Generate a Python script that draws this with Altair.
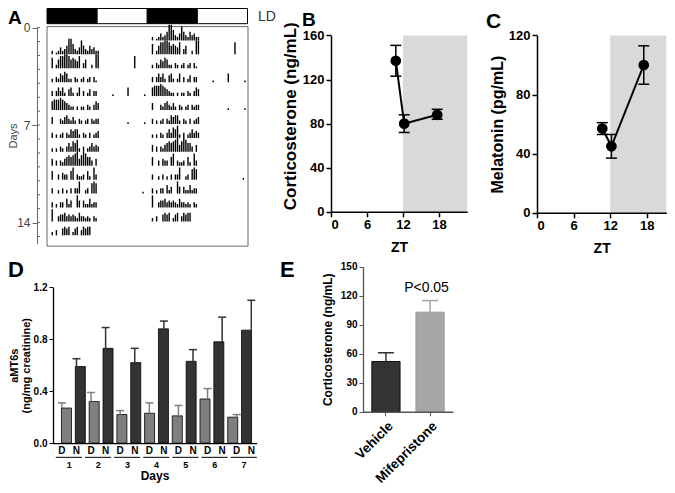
import altair as alt
import pandas as pd

# ---------------- data ----------------
# Panel A: actogram (double plotted). Light/dark bar
LD_EDGES = [0, 12, 24, 36, 48]
LD_PHASES = ["dark", "light", "dark", "light"]

# activity per day: one digit per 30-min bin starting at hour 1.0 (height level 0-9)
ACT_FIRST_HOUR = 1.0
ACT_BIN_HOURS = 0.5
ACT_DARK = [
    "201242359963248532534220",
    "602577887565470350020880",
    "203254652203202302303100",
    "303535204520250302403300",
    "566676543220202203203540",
    "400032453242032023032330",
    "302023032545520320302340",
    "202032035365720302353430",
    "403032456567846875530400",
    "500304330570322305207300",
    "300203020303370023067600",
    "302033052400740422523300",
    "700344534343253323203200",
    "203004545024503545500000",
]
ACT_EXTRA_DAY = [1, 3, 3, 3, 5, 5, 10]
ACT_EXTRA_HOUR = [21.0, 15.8, 19.4, 23.4, 19.4, 23.4, 23.0]
ACT_EXTRA_LEVEL = [7, 1, 5, 1, 1, 1, 1]

# Panel B: corticosterone vs ZT
B_ZT = [10.8, 12.2, 17.7]
B_MEAN = [137, 80, 88]
B_LOW = [123, 72, 84]
B_HIGH = [151, 88, 93]

# Panel C: melatonin vs ZT
C_ZT = [10.7, 12.2, 17.5]
C_MEAN = [57, 45, 100]
C_LOW = [53, 37, 87]
C_HIGH = [61, 53, 113]

DARK_START_ZT = 12

# Panel D: aMT6s by day, D (day) / N (night)
D_DAYS = [1, 2, 3, 4, 5, 6, 7]
D_DAY_MEAN = [0.27, 0.32, 0.22, 0.23, 0.21, 0.34, 0.20]
D_DAY_HIGH = [0.31, 0.39, 0.25, 0.31, 0.29, 0.42, 0.22]
D_NIGHT_MEAN = [0.59, 0.73, 0.62, 0.88, 0.63, 0.78, 0.87]
D_NIGHT_HIGH = [0.65, 0.89, 0.73, 0.94, 0.72, 0.97, 1.10]

# Panel E
E_GROUPS = ["Vehicle", "Mifepristone"]
E_MEAN = [52, 103]
E_HIGH = [61, 115]

# ---------------- layout ----------------
W, H = 659, 477
FONT = "Liberation Sans"


def X(r):
    return r - 8


def Y(r):
    return round((r - 4.0) * 0.98, 2)


def lin(domain, r0, r1):
    return alt.Scale(domain=domain, range=[r0, r1], nice=False, zero=False)


def left_axis(xpos, **kw):
    base = dict(orient="left", offset=-xpos, zindex=1, grid=False,
                labelFont=FONT, titleFont=FONT)
    base.update(kw)
    return alt.Axis(**base)


def bottom_axis(ypos, **kw):
    base = dict(orient="bottom", offset=ypos - H, zindex=1, grid=False,
                labelFont=FONT, titleFont=FONT)
    base.update(kw)
    return alt.Axis(**base)


def dummy():
    return pd.DataFrame({"k": [0]})


def text_layer(txt, x, y, size, weight="bold", align="left",
               baseline="alphabetic", color="black"):
    return alt.Chart(dummy()).mark_text(
        text=txt, fontSize=size, fontWeight=weight, align=align,
        baseline=baseline, color=color, font=FONT
    ).encode(x=alt.value(x), y=alt.value(y))


layers = []

# ---------------- Panel A ----------------
a_x = lin([0, 48], X(47), X(247.5))
a_y = lin([0, 15.5], Y(24), Y(24 + 15.5 * 14.21))

ld_df = pd.DataFrame({"start": LD_EDGES[:-1], "end": LD_EDGES[1:], "phase": LD_PHASES})
layers.append(
    alt.Chart(ld_df).mark_rect(stroke="black", strokeWidth=1).encode(
        x=alt.X("start:Q", scale=a_x, axis=None), x2="end",
        y=alt.value(0.5), y2=alt.value(Y(20)),
        fill=alt.Fill("phase:N", scale=alt.Scale(domain=["dark", "light"], range=["black", "white"]), legend=None),
    )
)
layers.append(text_layer("LD", X(258), Y(17), 14, weight="normal", color="#333"))

layers.append(
    alt.Chart(dummy()).mark_rect(fillOpacity=0, stroke="#666", strokeWidth=1).encode(
        x=alt.value(X(47)), x2=alt.value(X(248)), y=alt.value(Y(23)), y2=alt.value(Y(247))
    )
)

tick_df = pd.DataFrame({"day": list(range(0, 16))})
layers.append(
    alt.Chart(tick_df).mark_rule(color="#666", strokeWidth=1).encode(
        y=alt.Y("day:Q", scale=a_y, axis=left_axis(
            X(37), values=[0, 7, 14], title="Days", labelFontSize=12, labelFontWeight="normal",
            labelColor="#444", titleFontSize=11, titleFontWeight="normal", titleColor="#444",
            domainColor="#666", domainWidth=1, tickColor="#666", tickWidth=1, tickSize=5,
            labelPadding=2, titleX=10 - X(37), titleBaseline="bottom")),
        x=alt.value(X(37)), x2=alt.value(X(40)),
    )
)

act_rows = []
for d, s in enumerate(ACT_DARK):
    for i, ch in enumerate(s):
        lvl = int(ch)
        if lvl == 0:
            continue
        hr = ACT_FIRST_HOUR + ACT_BIN_HOURS * i + ACT_BIN_HOURS / 2
        for shift, row in ((24, d), (0, d + 1)):
            base = row + 0.92
            act_rows.append({"hour": hr + shift, "base": base, "top": base - lvl * 0.125})
for d, hr, lvl in zip(ACT_EXTRA_DAY, ACT_EXTRA_HOUR, ACT_EXTRA_LEVEL):
    for shift, row in ((24, d), (0, d + 1)):
        base = row + 0.92
        act_rows.append({"hour": hr + shift, "base": base, "top": base - lvl * 0.125})
act_df = pd.DataFrame(act_rows)
layers.append(
    alt.Chart(act_df).mark_rule(color="black", strokeWidth=1.4).encode(
        x=alt.X("hour:Q", scale=a_x, axis=None),
        y=alt.Y("base:Q", scale=a_y, axis=None), y2="top",
    )
)


# ---------------- Panels B & C ----------------
def point_panel(zt, mean, lo, hi, sx, sy, xmax, ymax, xpos, ypos, yvalues, ytitle, ytitle_size, title_y=None):
    df = pd.DataFrame({"zt": zt, "mean": mean, "lo": lo, "hi": hi})
    ykw = dict(values=yvalues, title=ytitle, labelFontSize=13, labelFontWeight="bold",
               labelColor="black", titleFontSize=ytitle_size, titleFontWeight="bold",
               titleColor="black", domainColor="black", domainWidth=1.5, tickColor="black",
               tickWidth=1.5, tickSize=5, labelPadding=2, titlePadding=3)
    if title_y is not None:
        ykw["titleY"] = title_y
    yax = left_axis(xpos, **ykw)
    xax = bottom_axis(ypos, values=[0, 6, 12, 18], title="ZT", labelFontSize=13,
                      labelFontWeight="bold", labelColor="black", titleFontSize=14,
                      titleFontWeight="bold", titleColor="black", domainColor="black",
                      domainWidth=1.5, tickColor="black", tickWidth=1.5, tickSize=5,
                      labelPadding=2, titlePadding=9)
    shade_df = pd.DataFrame({"x0": [DARK_START_ZT], "x1": [xmax], "y0": [0], "y1": [ymax]})
    out = [
        alt.Chart(shade_df).mark_rect(color="#d9d9d9").encode(
            x=alt.X("x0:Q", scale=sx, axis=xax), x2="x1",
            y=alt.Y("y0:Q", scale=sy, axis=yax), y2="y1"),
    ]
    base = alt.Chart(df)
    xe = alt.X("zt:Q", scale=sx, axis=None)
    out.append(base.mark_rule(color="black", strokeWidth=1.5).encode(
        x=xe, y=alt.Y("lo:Q", scale=sy, axis=None), y2="hi"))
    for f in ("lo", "hi"):
        out.append(base.mark_tick(orient="horizontal", size=11, thickness=1.5, color="black", opacity=1).encode(
            x=xe, y=alt.Y(f + ":Q", scale=sy, axis=None)))
    out.append(base.mark_line(color="black", strokeWidth=2).encode(
        x=xe, y=alt.Y("mean:Q", scale=sy, axis=None)))
    out.append(base.mark_circle(size=115, color="black", opacity=1).encode(
        x=xe, y=alt.Y("mean:Q", scale=sy, axis=None)))
    return out


b_x = lin([0, 22.7], X(331), X(467.2))
b_y = lin([0, 160], Y(212), Y(32))
layers += point_panel(B_ZT, B_MEAN, B_LOW, B_HIGH, b_x, b_y, 22.7, 160, X(331), Y(212),
                      [0, 40, 80, 120, 160], "Corticosterone (ng/mL)", 17, title_y=Y(114))

c_x = lin([0, 21.2], X(537), X(537 + 21.2 * 6.1))
c_y = lin([0, 120], Y(213), Y(32))
layers += point_panel(C_ZT, C_MEAN, C_LOW, C_HIGH, c_x, c_y, 21.2, 120, X(537), Y(213),
                      [0, 40, 80, 120], "Melatonin (pg/mL)", 16)

# ---------------- Panel D ----------------
d_x = lin([0.444, 7.436], X(53), X(256.7))
d_y = lin([0, 1.2], Y(448), Y(289))
d_fill = alt.Scale(domain=["D", "N"], range=["#7f7f7f", "#333333"])

d_rows = []
for day, dm, dh, nm, nh in zip(D_DAYS, D_DAY_MEAN, D_DAY_HIGH, D_NIGHT_MEAN, D_NIGHT_HIGH):
    d_rows.append({"pos": day - 0.25, "val": dm, "hi": dh, "phase": "D"})
    d_rows.append({"pos": day + 0.25, "val": nm, "hi": nh, "phase": "N"})
d_df = pd.DataFrame(d_rows)
day_df = pd.DataFrame({"day": D_DAYS, "lo": [d - 0.46 for d in D_DAYS],
                       "hi": [d + 0.44 for d in D_DAYS], "label": [str(d) for d in D_DAYS]})

layers.append(
    alt.Chart(d_df).mark_bar(size=10, orient="vertical", stroke="black", strokeWidth=0.8).encode(
        x=alt.X("pos:Q", scale=d_x, axis=bottom_axis(
            Y(448), labels=False, ticks=False, title=None, domainColor="black", domainWidth=1.3)),
        y=alt.Y("val:Q", scale=d_y, stack=None, axis=left_axis(
            X(53), values=[0, 0.4, 0.8, 1.2], format=".1f", title=["aMT6s", "(ng/mg creatinine)"],
            labelFontSize=10, labelFontWeight="bold", labelColor="black", titleFontSize=11,
            titleFontWeight="bold", titleColor="black", domainColor="black", domainWidth=1.3,
            tickColor="black", tickWidth=1, tickSize=4, labelPadding=2,
            titleX=-34, titleBaseline="bottom", titleLineHeight=12)),
        fill=alt.Fill("phase:N", scale=d_fill, legend=None),
    )
)
layers.append(
    alt.Chart(d_df).mark_rule(strokeWidth=1.5).encode(
        x=alt.X("pos:Q", scale=d_x, axis=None),
        y=alt.Y("val:Q", scale=d_y, axis=None), y2="hi",
        color=alt.Color("phase:N", scale=d_fill, legend=None),
    )
)
layers.append(
    alt.Chart(d_df).mark_tick(orient="horizontal", size=8, thickness=1.5, opacity=1).encode(
        x=alt.X("pos:Q", scale=d_x, axis=None),
        y=alt.Y("hi:Q", scale=d_y, axis=None),
        color=alt.Color("phase:N", scale=d_fill, legend=None),
    )
)
layers.append(
    alt.Chart(d_df).mark_text(fontSize=10, fontWeight="bold", font=FONT, baseline="alphabetic", color="black").encode(
        x=alt.X("pos:Q", scale=d_x, axis=None), y=alt.value(Y(459.5)), text="phase:N",
    )
)
layers.append(
    alt.Chart(day_df).mark_rule(color="black", strokeWidth=1).encode(
        x=alt.X("lo:Q", scale=d_x, axis=None), x2="hi", y=alt.value(Y(462.5)),
    )
)
layers.append(
    alt.Chart(day_df).mark_text(fontSize=9, fontWeight="bold", font=FONT, baseline="alphabetic", color="black").encode(
        x=alt.X("day:Q", scale=d_x, axis=None), y=alt.value(Y(473)), text="label:N",
    )
)
layers.append(text_layer("Days", X(155), Y(486), 12, align="center"))

# ---------------- Panel E ----------------
e_x = alt.Scale(domain=E_GROUPS, range=[X(363), X(453)], paddingInner=0.36, paddingOuter=0.2)
e_y = lin([0, 150], Y(416), Y(268))
e_fill = alt.Scale(domain=E_GROUPS, range=["#333333", "#a6a6a6"])
e_stroke = alt.Scale(domain=E_GROUPS, range=["#111111", "#9a9a9a"])
e_df = pd.DataFrame({"group": E_GROUPS, "mean": E_MEAN, "hi": E_HIGH})

layers.append(
    alt.Chart(e_df).mark_bar(strokeWidth=1).encode(
        x=alt.X("group:N", scale=e_x, sort=E_GROUPS, axis=bottom_axis(
            Y(416), title=None, labelAngle=-45, labelFontSize=13.5, labelFontWeight="bold",
            labelColor="black", domainColor="#555", domainWidth=1.3, tickColor="#555",
            tickWidth=1, tickSize=4, labelPadding=3)),
        y=alt.Y("mean:Q", scale=e_y, stack=None, axis=left_axis(
            X(363), values=[0, 30, 60, 90, 120, 150], title="Corticosterone (ng/mL)",
            labelFontSize=10, labelFontWeight="bold", labelColor="black", titleFontSize=12,
            titleFontWeight="bold", titleColor="black", domainColor="#555", domainWidth=1.3,
            tickColor="#555", tickWidth=1, tickSize=4, labelPadding=2, titlePadding=6)),
        fill=alt.Fill("group:N", scale=e_fill, legend=None),
        stroke=alt.Stroke("group:N", scale=e_stroke, legend=None),
    )
)
layers.append(
    alt.Chart(e_df).mark_rule(strokeWidth=1.5).encode(
        x=alt.X("group:N", scale=e_x, sort=E_GROUPS, axis=None),
        y=alt.Y("mean:Q", scale=e_y, axis=None), y2="hi",
        color=alt.Color("group:N", scale=e_fill, legend=None),
    )
)
layers.append(
    alt.Chart(e_df).mark_tick(orient="horizontal", size=16, thickness=1.5, opacity=1).encode(
        x=alt.X("group:N", scale=e_x, sort=E_GROUPS, axis=None),
        y=alt.Y("hi:Q", scale=e_y, axis=None),
        color=alt.Color("group:N", scale=e_fill, legend=None),
    )
)
layers.append(text_layer("P<0.05", X(426.5), Y(294), 14, weight="normal", align="center"))

# ---------------- panel letters ----------------
layers.append(text_layer("A", 0, Y(20), 19))
layers.append(text_layer("B", X(302), Y(22), 19))
layers.append(text_layer("C", X(486), Y(24), 21))
layers.append(text_layer("D", 0, Y(278.5), 22))
layers.append(text_layer("E", X(280), Y(278.5), 22))

chart = (
    alt.layer(*layers)
    .resolve_scale(x="independent", y="independent", color="independent",
                   fill="independent", stroke="independent")
    .properties(width=W, height=H, padding=0, autosize=alt.AutoSizeParams(type="none"))
    .configure(font=FONT)
    .configure_view(stroke=None)
    .configure_axis(grid=False)
)

chart.save("out.html", embed_options={"renderer": "svg", "actions": False})
